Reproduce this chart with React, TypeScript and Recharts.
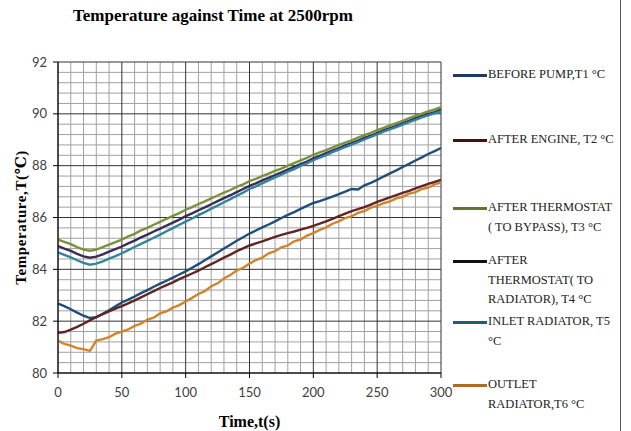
import React from 'react';
import { LineChart, Line, XAxis, YAxis, ReferenceLine, Label } from 'recharts';

const times = [0,5,10,15,20,25,30,35,40,45,50,55,60,65,70,75,80,85,90,95,100,105,110,115,120,125,130,135,140,145,150,155,160,165,170,175,180,185,190,195,200,205,210,215,220,225,230,235,240,245,250,255,260,265,270,275,280,285,290,295,300];

const t1 = [82.68,82.58,82.46,82.33,82.21,82.12,82.15,82.28,82.42,82.57,82.72,82.83,82.95,83.08,83.20,83.33,83.45,83.56,83.68,83.80,83.92,84.06,84.20,84.35,84.50,84.65,84.80,84.95,85.10,85.24,85.38,85.50,85.62,85.73,85.85,85.98,86.10,86.21,86.33,86.45,86.56,86.63,86.72,86.81,86.90,87.00,87.10,87.08,87.24,87.34,87.45,87.58,87.70,87.82,87.95,88.07,88.20,88.32,88.45,88.56,88.68];
const t2 = [81.55,81.58,81.67,81.78,81.90,82.03,82.16,82.27,82.38,82.48,82.58,82.69,82.80,82.92,83.04,83.16,83.28,83.39,83.50,83.62,83.73,83.84,83.95,84.08,84.20,84.32,84.45,84.57,84.70,84.81,84.92,85.00,85.08,85.17,85.25,85.33,85.40,85.46,85.53,85.60,85.68,85.76,85.85,85.95,86.05,86.15,86.25,86.32,86.40,86.50,86.60,86.69,86.78,86.86,86.95,87.03,87.12,87.21,87.30,87.37,87.45];
const t3 = [85.15,85.06,84.97,84.86,84.76,84.72,84.76,84.86,84.95,85.05,85.15,85.27,85.37,85.50,85.60,85.72,85.83,85.95,86.06,86.17,86.30,86.40,86.52,86.62,86.74,86.85,86.96,87.06,87.18,87.28,87.40,87.49,87.60,87.69,87.80,87.89,88.00,88.10,88.20,88.30,88.42,88.51,88.60,88.70,88.80,88.89,88.98,89.08,89.18,89.27,89.37,89.46,89.55,89.64,89.73,89.83,89.92,90.01,90.09,90.17,90.26];
const t4 = [84.90,84.80,84.71,84.60,84.50,84.45,84.49,84.58,84.68,84.78,84.88,85.00,85.11,85.23,85.34,85.46,85.57,85.69,85.80,85.92,86.05,86.16,86.28,86.39,86.51,86.63,86.75,86.86,86.98,87.10,87.22,87.32,87.43,87.53,87.64,87.74,87.85,87.95,88.06,88.16,88.28,88.38,88.48,88.58,88.68,88.78,88.87,88.97,89.07,89.16,89.26,89.36,89.45,89.54,89.63,89.73,89.82,89.91,89.99,90.07,90.16];
const t5 = [84.65,84.56,84.46,84.35,84.25,84.18,84.22,84.31,84.41,84.51,84.62,84.74,84.86,84.98,85.10,85.22,85.34,85.47,85.59,85.72,85.84,85.96,86.09,86.21,86.34,86.46,86.59,86.71,86.84,86.96,87.10,87.20,87.32,87.43,87.55,87.65,87.77,87.87,87.99,88.09,88.21,88.31,88.41,88.52,88.62,88.72,88.81,88.91,89.01,89.11,89.21,89.31,89.40,89.49,89.58,89.68,89.77,89.86,89.94,90.02,90.10];
const t6 = [81.25,81.12,81.06,80.96,80.92,80.85,81.25,81.31,81.38,81.52,81.60,81.68,81.82,81.90,82.06,82.14,82.30,82.38,82.52,82.62,82.76,82.90,83.05,83.16,83.35,83.46,83.65,83.78,83.95,84.06,84.22,84.36,84.45,84.62,84.70,84.85,84.92,85.08,85.15,85.30,85.40,85.52,85.62,85.76,85.85,85.98,86.05,86.18,86.25,86.38,86.45,86.55,86.62,86.74,86.80,86.92,86.98,87.10,87.15,87.28,87.35];

const xTicks = [0,50,100,150,200,250,300];
const yTicks = [80,82,84,86,88,90,92];
const xMinor = [10,20,30,40,60,70,80,90,110,120,130,140,160,170,180,190,210,220,230,240,260,270,280,290];
const yMinor = [80.4,80.8,81.2,81.6,82.4,82.8,83.2,83.6,84.4,84.8,85.2,85.6,86.4,86.8,87.2,87.6,88.4,88.8,89.2,89.6,90.4,90.8,91.2,91.6];

const seriesKeys = ['t1','t2','t3','t4','t5','t6'];
const seriesNames = [
  'BEFORE PUMP,T1 °C',
  'AFTER ENGINE, T2 °C',
  'AFTER THERMOSTAT\n( TO BYPASS), T3 °C',
  'AFTER\nTHERMOSTAT( TO\nRADIATOR), T4 °C',
  'INLET RADIATOR, T5\n°C',
  'OUTLET\nRADIATOR,T6 °C',
];
const seriesColors = ['#1F4E79','#632523','#77933C','#3B2C58','#31859C','#D0842C'];
const legendColors = ['#1F3864','#4A1010','#5F7530','#111111','#215F6E','#B06A28'];
const legendTops = [65,130,198,251,312,375];

const allSeries = [t1,t2,t3,t4,t5,t6];
const data = times.map((t, i) => {
  const row: any = { time: t };
  seriesKeys.forEach((k, j) => { row[k] = allSeries[j][i]; });
  return row;
});

const serif = '"Liberation Serif", "DejaVu Serif", serif';
const sans = 'Lato, "Open Sans", sans-serif';

export default function App() {
  return (
    <div style={{ position: 'absolute', left: 0, top: 0, width: 621, height: 431, background: '#fff', borderRight: '1px solid #555', boxSizing: 'border-box' }}>
      <div style={{ position: 'absolute', left: 73, top: 6, fontFamily: serif, fontWeight: 'bold', fontSize: 17, color: '#000', whiteSpace: 'nowrap' }}>
        Temperature against Time at 2500rpm
      </div>
      <LineChart width={620} height={431} data={data} margin={{ top: 62, right: 179, bottom: 0, left: 8 }}>
        <XAxis dataKey="time" type="number" domain={[0, 300]} ticks={xTicks} height={58} tickSize={5} tickMargin={10}
          axisLine={{ stroke: '#000' }} tickLine={{ stroke: '#000' }}
          tick={{ fontSize: 13, fill: '#404040', fontFamily: sans }}>
          <Label content={(props: any) => {
            const vb = props.viewBox;
            return <text x={vb.x + vb.width / 2} y={427} textAnchor="middle" fontFamily={serif} fontWeight="bold" fontSize={16} fill="#000">Time,t(s)</text>;
          }} />
        </XAxis>
        <YAxis type="number" domain={[80, 92]} ticks={yTicks} width={50} tickSize={5} tickMargin={6}
          axisLine={{ stroke: '#000' }} tickLine={{ stroke: '#000' }}
          tick={{ fontSize: 13, fill: '#404040', fontFamily: sans }}>
          <Label content={(props: any) => {
            const vb = props.viewBox;
            const cx = 21;
            const cy = vb.y + vb.height / 2;
            return <text x={cx} y={cy} transform={`rotate(-90 ${cx} ${cy})`} textAnchor="middle" dominantBaseline="central" fontFamily={serif} fontWeight="bold" fontSize={15} letterSpacing={0.6} fill="#000">Temperature,T(℃)</text>;
          }} />
        </YAxis>
        {yMinor.map((v) => <ReferenceLine key={'ym' + v} y={v} stroke="#a0a0a0" strokeWidth={1} />)}
        {xMinor.map((v) => <ReferenceLine key={'xm' + v} x={v} stroke="#a0a0a0" strokeWidth={1} />)}
        {yTicks.map((v) => <ReferenceLine key={'yM' + v} y={v} stroke="#333" strokeWidth={1} />)}
        {xTicks.map((v) => <ReferenceLine key={'xM' + v} x={v} stroke="#333" strokeWidth={1} />)}
        {seriesKeys.map((k, j) => (
          <Line key={k} dataKey={k} name={seriesNames[j]} stroke={seriesColors[j]} strokeWidth={2.4} dot={false} isAnimationActive={false} type="linear" />
        ))}
      </LineChart>
      {seriesKeys.map((k, j) => (
        <div key={k} style={{ position: 'absolute', left: 453, top: legendTops[j], display: 'flex', alignItems: 'flex-start' }}>
          <div style={{ width: 34, height: 3, background: legendColors[j], marginTop: 9, marginRight: 1 }} />
          <div style={{ fontFamily: serif, fontSize: 12.5, lineHeight: '19.5px', color: '#222', whiteSpace: 'pre' }}>{seriesNames[j]}</div>
        </div>
      ))}
    </div>
  );
}
